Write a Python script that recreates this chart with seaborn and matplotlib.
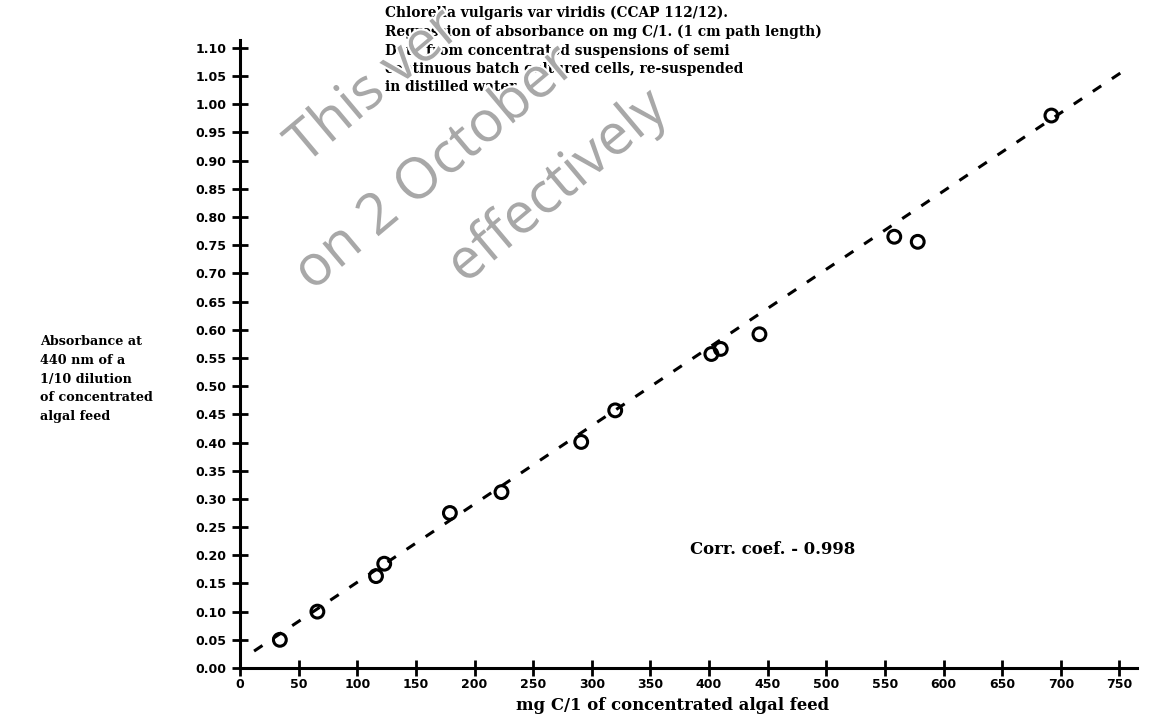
import seaborn as sns
import matplotlib.pyplot as plt
import matplotlib.patheffects as pe
import pandas as pd

# Measured points: mg C/1 vs absorbance (440 nm, 1/10 dilution)
carbon = [34, 66, 116, 123, 179, 223, 291, 320, 402, 410, 443, 558, 578, 692]
absorbance = [0.050, 0.100, 0.163, 0.185, 0.275, 0.312, 0.401, 0.457, 0.557, 0.566, 0.592, 0.765, 0.756, 0.980]

# Regression line end points
fit_x = [12, 752]
fit_y = [0.030, 1.057]

x_ticks = list(range(0, 800, 50))
y_ticks = [round(0.05 * i, 2) for i in range(23)]

title_lines = [
    'Chlorella vulgaris var viridis (CCAP 112/12).',
    'Regression of absorbance on mg C/1. (1 cm path length)',
    'Data from concentrated suspensions of semi',
    'continuous batch cultured cells, re-suspended',
    'in distilled water.',
]

data = pd.DataFrame({'carbon': carbon, 'absorbance': absorbance})
fit = pd.DataFrame({'x': fit_x, 'y': fit_y})

sns.set_style('ticks')
plt.rcParams['font.family'] = ['DejaVu Sans']
plt.rcParams['text.color'] = 'black'
plt.rcParams['axes.edgecolor'] = 'black'
plt.rcParams['xtick.color'] = 'black'
plt.rcParams['ytick.color'] = 'black'
serif = 'DejaVu Serif'

fig = plt.figure(figsize=(11.55, 7.19), dpi=100)
ax = fig.add_axes([240 / 1155, 1 - 668 / 719, 897 / 1155, 628 / 719])
ax.patch.set_alpha(0)

# Regression line and the data points
sns.lineplot(data=fit, x='x', y='y', ax=ax, color='black', linewidth=2.2,
             linestyle=(0, (3.3, 4.2)))
sns.scatterplot(data=data, x='carbon', y='absorbance', ax=ax, marker='o', s=85,
                facecolor='none', edgecolor='black', linewidth=2.2, zorder=3)

ax.set_xlim(0, 765)
ax.set_ylim(0, 1.114)
ax.set_xticks(x_ticks)
ax.set_yticks(y_ticks)
ax.set_xticklabels([str(v) for v in x_ticks])
ax.set_yticklabels([f'{v:.2f}' for v in y_ticks])
ax.tick_params(direction='inout', length=12, width=2, labelsize=9)
ax.tick_params(axis='x', pad=1)
ax.tick_params(axis='y', pad=4)
for lab in ax.get_xticklabels() + ax.get_yticklabels():
    lab.set_fontweight('bold')
sns.despine(ax=ax)
ax.spines['left'].set_linewidth(2.2)
ax.spines['bottom'].set_linewidth(2.2)
ax.set_xlabel('')
ax.set_ylabel('')

ax.text(384, 0.21, 'Corr. coef. - 0.998', family=serif, fontweight='bold',
        fontsize=11.9, ha='left', va='center')

# Title block and axis labels
fig.text(385 / 1155, 1 - 6 / 719, '\n'.join(title_lines), family=serif,
         fontweight='bold', fontsize=9.9, ha='left', va='top', linespacing=1.39)
fig.text(40 / 1155, 1 - 379 / 719,
         'Absorbance at\n440 nm of a\n1/10 dilution\nof concentrated\nalgal feed',
         family=serif, fontweight='bold', fontsize=9.2, ha='left', va='center',
         linespacing=1.56)
fig.text(673 / 1155, 1 - 705 / 719, 'mg C/1 of concentrated algal feed',
         family=serif, fontweight='bold', fontsize=11.9, ha='center', va='center')

# Watermark
halo = [pe.withStroke(linewidth=3, foreground='white')]
for txt, px, py in [('This ver', 305, 165), ('on 2 October', 312, 292),
                    ('effectively', 465, 285)]:
    fig.text(px / 1155, 1 - py / 719, txt, family='Open Sans', fontsize=41,
             color='#a8a8a8', rotation=40,
             rotation_mode='anchor', ha='left', va='baseline', zorder=10,
             path_effects=halo)

plt.savefig('out.png', dpi=100)
